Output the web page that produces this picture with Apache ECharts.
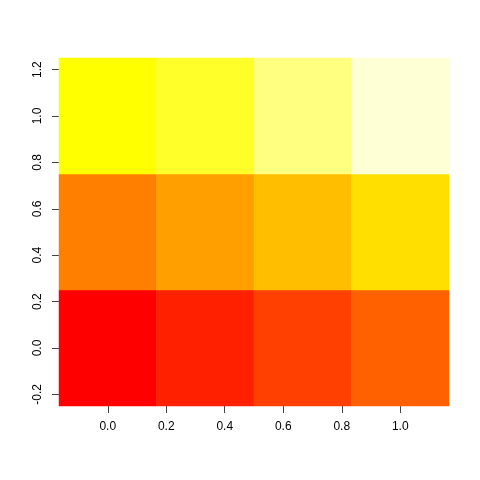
<!DOCTYPE html>
<html>
<head>
<meta charset="utf-8">
<script src="https://cdn.jsdelivr.net/npm/echarts@6/dist/echarts.min.js"></script>
<style>html,body{margin:0;padding:0;background:#fff}#c{width:480px;height:480px}</style>
</head>
<body>
<div id="c"></div>
<script>
// Cell centres (R image of a 4x3 matrix)
const xCenters = [0, 1/3, 2/3, 1];
const yCenters = [0, 0.5, 1];
// z values per cell: rows = y index, columns = x index
const zValues = [
  [1, 2, 3, 4],
  [5, 6, 7, 8],
  [9, 10, 11, 12]
];
// heat.colors(12)
const palette = ["#FF0000","#FF2000","#FF4000","#FF6000","#FF8000","#FF9F00",
                 "#FFBF00","#FFDF00","#FFFF00","#FFFF2A","#FFFF80","#FFFFD5"];
const xTicks = [0, 0.2, 0.4, 0.6, 0.8, 1.0];
const yTicks = [-0.2, 0, 0.2, 0.4, 0.6, 0.8, 1.0, 1.2];

const cellW = 1/3, cellH = 0.5;
const data = [];
yCenters.forEach((y, j) => xCenters.forEach((x, i) => data.push([x, y, zValues[j][i]])));

const chart = echarts.init(document.getElementById('c'), null, {renderer: 'canvas'});
const font = 'Liberation Sans, Arial, sans-serif';
chart.setOption({
  animation: false,
  grid: {left: 59, right: 31, top: 58, bottom: 74, show: false},
  xAxis: {
    type: 'value', min: -1/6, max: 7/6,
    axisLine: {show: false, onZero: false},
    splitLine: {show: false},
    axisTick: {show: true, inside: false, length: 7, customValues: xTicks, lineStyle: {color: '#444', width: 1}},
    axisLabel: {customValues: xTicks, color: '#000', fontSize: 12, fontFamily: font, margin: 15,
      formatter: v => v.toFixed(1)}
  },
  yAxis: {
    type: 'value', min: -0.25, max: 1.25,
    axisLine: {show: false, onZero: false},
    splitLine: {show: false},
    axisTick: {show: true, inside: false, length: 7, customValues: yTicks, lineStyle: {color: '#444', width: 1}},
    axisLabel: {customValues: yTicks, color: '#000', fontSize: 12, fontFamily: font, margin: 15, rotate: 90,
      formatter: v => v.toFixed(1)}
  },
  series: [{
    type: 'custom',
    data: data,
    renderItem: function (params, api) {
      const x = api.value(0), y = api.value(1), z = api.value(2);
      const p0 = api.coord([x - cellW/2, y + cellH/2]);
      const p1 = api.coord([x + cellW/2, y - cellH/2]);
      return {
        type: 'rect',
        shape: {x: p0[0], y: p0[1], width: p1[0] - p0[0], height: p1[1] - p0[1]},
        style: {fill: palette[z - 1], stroke: palette[z - 1], lineWidth: 0.5}
      };
    }
  }]
});
</script>
</body>
</html>
